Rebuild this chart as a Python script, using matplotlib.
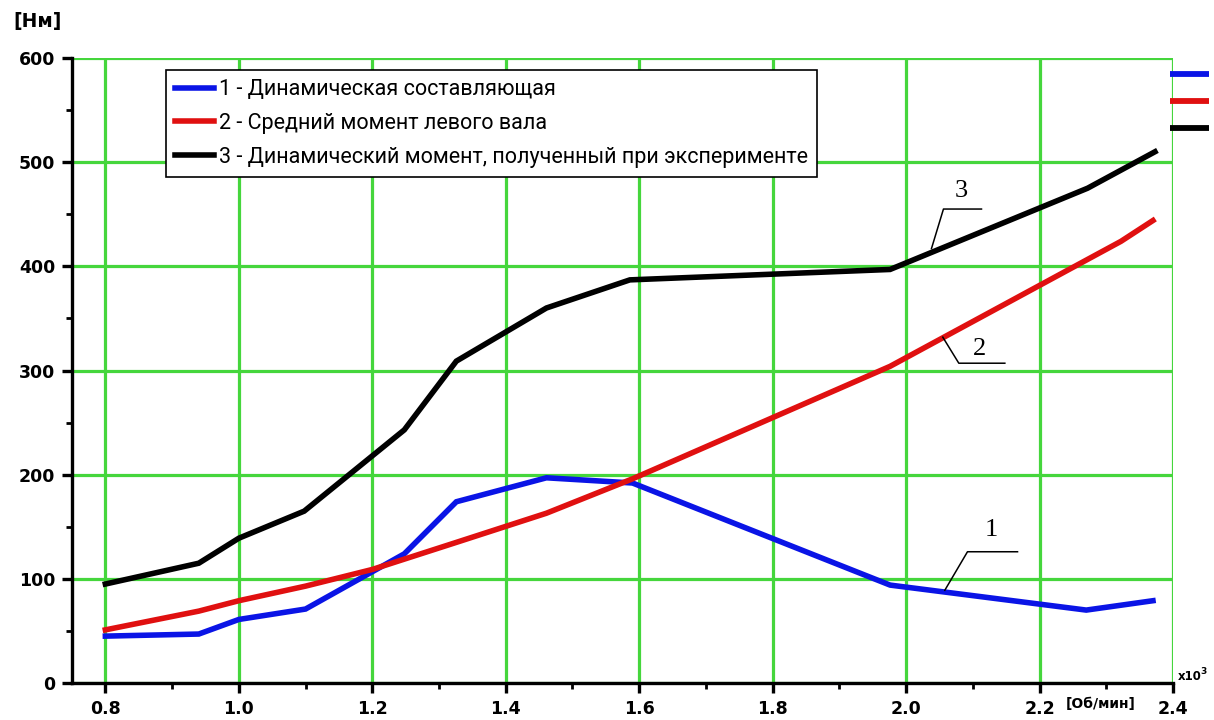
import matplotlib
matplotlib.use("Agg")
import matplotlib.pyplot as plt
from matplotlib.lines import Line2D

plt.rcParams["font.family"] = "DejaVu Sans"

# ---- data ----
x_dyn = [0.80, 0.94, 1.00, 1.10, 1.248, 1.326, 1.461, 1.59, 1.976, 2.27, 2.37]
y_dyn = [45, 47, 61, 71, 124, 174, 197, 192, 94, 70, 79]

x_mean = [0.80, 0.94, 1.00, 1.10, 1.20, 1.326, 1.461, 1.59, 1.976, 2.322, 2.37]
y_mean = [51, 69, 79, 93, 109, 135, 163, 196, 304, 424, 444]

x_exp = [0.80, 0.94, 1.00, 1.098, 1.248, 1.326, 1.461, 1.586, 1.976, 2.272, 2.373]
y_exp = [95, 115, 139, 165, 243, 309, 360, 387, 397, 475, 510]

labels = ["1 - Динамическая составляющая",
          "2 - Средний момент левого вала",
          "3 - Динамический момент, полученный при эксперименте"]
colors = ["#0a14e6", "#e01010", "#000000"]

x_ticks = [0.8, 1.0, 1.2, 1.4, 1.6, 1.8, 2.0, 2.2, 2.4]
x_ticklabels = ["0.8", "1.0", "1.2", "1.4", "1.6", "1.8", "2.0", "2.2", "2.4"]
y_ticks = [0, 100, 200, 300, 400, 500, 600]

W, H = 1214, 720
fig = plt.figure(figsize=(W / 100, H / 100), dpi=100)
ax_l, ax_r, ax_t, ax_b = 72, 1173, 58, 683
ax = fig.add_axes([ax_l / W, 1 - ax_b / H, (ax_r - ax_l) / W, (ax_b - ax_t) / H])

ax.set_xlim(0.75, 2.4)
ax.set_ylim(0, 600)

grid_green = "#45d63c"
ax.set_xticks(x_ticks)
ax.set_xticklabels(x_ticklabels)
ax.set_yticks(y_ticks)
ax.set_xticks([0.9, 1.1, 1.3, 1.5, 1.7, 1.9, 2.1, 2.3], minor=True)
ax.set_yticks([50, 150, 250, 350, 450, 550], minor=True)
ax.grid(True, which="major", color=grid_green, linewidth=2.3, zorder=0)
ax.set_axisbelow(True)

for s in ["top", "right"]:
    ax.spines[s].set_visible(False)
for s in ["left", "bottom"]:
    ax.spines[s].set_linewidth(2.4)
    ax.spines[s].set_color("black")

ax.tick_params(which="major", direction="out", length=7, width=2.4, pad=5,
               labelsize=12.5)
ax.tick_params(which="minor", direction="out", length=4, width=2.0)
for lab in ax.get_xticklabels() + ax.get_yticklabels():
    lab.set_fontweight("bold")

lw = 4.0
l1, = ax.plot(x_dyn, y_dyn, color=colors[0], lw=lw, solid_joinstyle="miter", zorder=3)
l2, = ax.plot(x_mean, y_mean, color=colors[1], lw=lw, solid_joinstyle="miter", zorder=3)
l3, = ax.plot(x_exp, y_exp, color=colors[2], lw=lw, solid_joinstyle="miter", zorder=3)

# legend box
leg = ax.legend([l1, l2, l3], labels, loc="upper left",
                bbox_to_anchor=(166 / W, 1 - 70 / H), bbox_transform=fig.transFigure,
                prop={"family": ["Roboto", "DejaVu Sans"], "size": 15.5},
                handlelength=1.8, handletextpad=0.23, borderaxespad=0,
                borderpad=0.42, labelspacing=0.6, fancybox=False,
                framealpha=1, edgecolor="black", frameon=True)
leg.get_frame().set_linewidth(1.2)
leg.set_zorder(5)

# annotation leaders
serif = "Liberation Serif"
ax.plot([2.038, 2.056, 2.113], [417, 455, 455], color="black", lw=1.1, zorder=4)
ax.text(2.083, 472, "3", family=serif, fontsize=19, ha="center", va="center", zorder=4)
ax.plot([2.055, 2.079, 2.148], [332, 307, 307], color="black", lw=1.1, zorder=4)
ax.text(2.110, 321, "2", family=serif, fontsize=19, ha="center", va="center", zorder=4)
ax.plot([2.058, 2.092, 2.167], [89, 126, 126], color="black", lw=1.1, zorder=4)
ax.text(2.128, 147, "1", family=serif, fontsize=19, ha="center", va="center", zorder=4)

# right-side colour marks
for c, py in zip(colors, [74, 101, 128]):
    fig.add_artist(Line2D([1170 / W, 1209 / W], [1 - py / H, 1 - py / H],
                          color=c, lw=4.2, transform=fig.transFigure,
                          solid_capstyle="butt"))

# axis unit labels
fig.text(38 / W, 1 - 22 / H, "[Нм]", fontsize=13.5, fontweight="bold",
         ha="center", va="center")
fig.text(1101 / W, 1 - 704 / H, "[Об/мин]", fontsize=10, fontweight="bold",
         ha="center", va="center")
fig.text(1178 / W, 1 - 677 / H, "x10", fontsize=8.5, fontweight="bold",
         ha="left", va="center")
fig.text(1200 / W, 1 - 671 / H, "3", fontsize=6.5, fontweight="bold",
         ha="left", va="center")

fig.savefig("out.png", dpi=100, facecolor="white")
